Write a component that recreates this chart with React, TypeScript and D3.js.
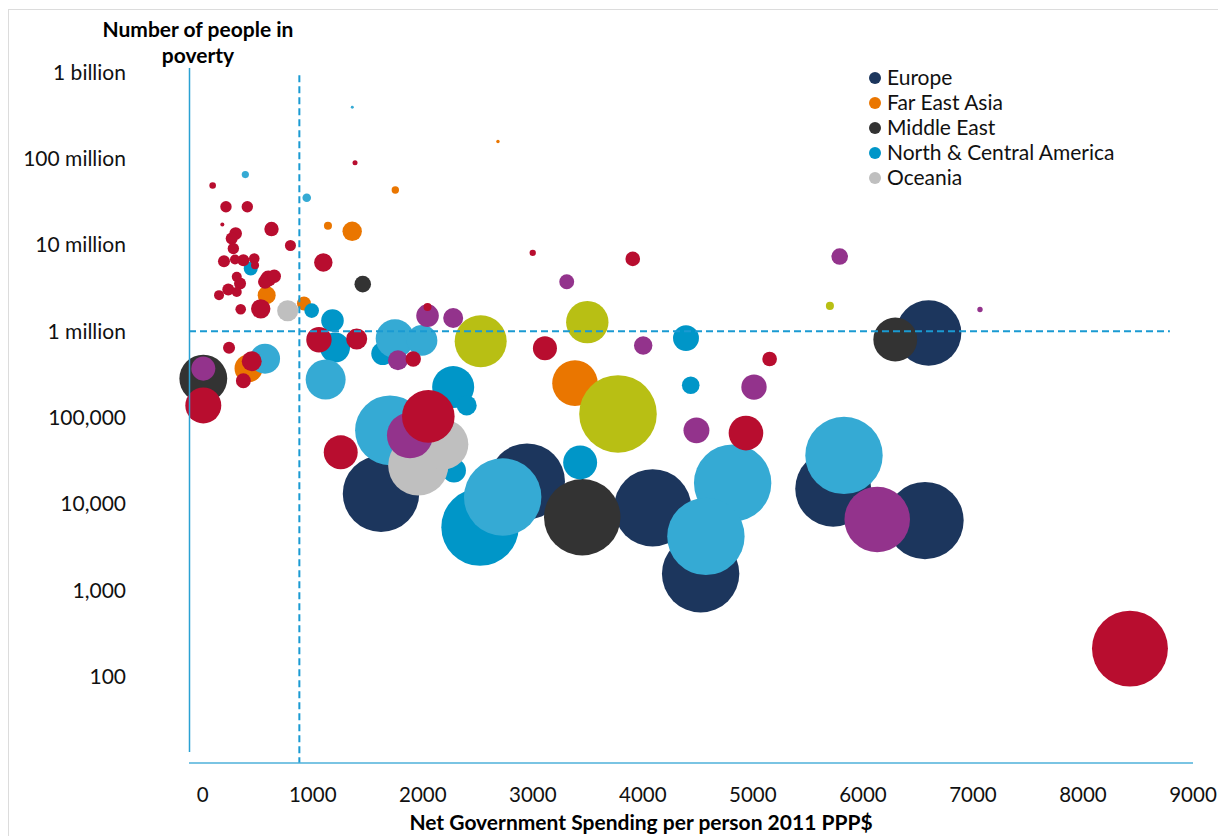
import React from "react";
import * as d3 from "d3";

// Each point: x = net government spending per person (2011 PPP$),
// y = number of people in poverty, s = bubble size (population, millions)
type Pt = { x: number; y: number; s: number };

const europe: Pt[] = [
  { x: 1620, y: 13100, s: 79 },
  { x: 2947, y: 18200, s: 78 },
  { x: 4089, y: 9000, s: 81 },
  { x: 4525, y: 1550, s: 81 },
  { x: 5730, y: 15000, s: 78 },
  { x: 6564, y: 6400, s: 81 },
  { x: 6597, y: 950000, s: 58 },
];

const farEastAsia: Pt[] = [
  { x: 581, y: 2610000, s: 4.4 },
  { x: 920, y: 2090000, s: 2.65 },
  { x: 1138, y: 16600000, s: 0.87 },
  { x: 1358, y: 14300000, s: 5.1 },
  { x: 1750, y: 43000000, s: 0.74 },
  { x: 2683, y: 157000000, s: 0.16 },
  { x: 416, y: 370000, s: 10.6 },
  { x: 3383, y: 250000, s: 28 },
];

const middleEast: Pt[] = [
  { x: 5, y: 282000, s: 31 },
  { x: 1454, y: 3500000, s: 3.7 },
  { x: 3449, y: 7000, s: 79 },
  { x: 6294, y: 800000, s: 26 },
];

const northCentralAmerica: Pt[] = [
  { x: 436, y: 5300000, s: 2.65 },
  { x: 990, y: 1730000, s: 2.9 },
  { x: 1179, y: 1330000, s: 6.9 },
  { x: 1202, y: 645000, s: 12.2 },
  { x: 1636, y: 550000, s: 7.15 },
  { x: 2276, y: 225000, s: 23.9 },
  { x: 2399, y: 138000, s: 5.4 },
  { x: 2283, y: 24400, s: 7.8 },
  { x: 2520, y: 5380, s: 81 },
  { x: 3430, y: 30200, s: 15.6 },
  { x: 4392, y: 830000, s: 9.1 },
  { x: 4435, y: 236000, s: 4.2 },
];

const southAmerica: Pt[] = [
  { x: 387, y: 65000000, s: 0.7 },
  { x: 945, y: 35000000, s: 1.0 },
  { x: 1359, y: 390000000, s: 0.12 },
  { x: 566, y: 480000, s: 12.2 },
  { x: 1117, y: 275000, s: 21.6 },
  { x: 1747, y: 820000, s: 20.1 },
  { x: 1993, y: 780000, s: 12.7 },
  { x: 1702, y: 71000, s: 66 },
  { x: 2726, y: 12000, s: 81 },
  { x: 4816, y: 17400, s: 81 },
  { x: 4573, y: 4200, s: 81 },
  { x: 5828, y: 36400, s: 81 },
];

const oceania: Pt[] = [
  { x: 772, y: 1720000, s: 6 },
  { x: 2186, y: 48900, s: 34 },
  { x: 1959, y: 27900, s: 49 },
];

const centralAsia: Pt[] = [
  { x: 5, y: 368000, s: 7.8 },
  { x: 2043, y: 1510000, s: 6.9 },
  { x: 2276, y: 1420000, s: 5.4 },
  { x: 1774, y: 460000, s: 5.4 },
  { x: 1883, y: 62100, s: 28.6 },
  { x: 3308, y: 3730000, s: 3.0 },
  { x: 4003, y: 680000, s: 4.6 },
  { x: 4487, y: 71000, s: 9.1 },
  { x: 5010, y: 225000, s: 8.7 },
  { x: 5789, y: 7300000, s: 3.7 },
  { x: 7064, y: 1780000, s: 0.39 },
  { x: 6130, y: 6600, s: 58 },
];

const africa: Pt[] = [
  { x: 90, y: 48600000, s: 0.59 },
  { x: 211, y: 27500000, s: 1.76 },
  { x: 405, y: 27500000, s: 1.76 },
  { x: 178, y: 17200000, s: 0.22 },
  { x: 625, y: 15200000, s: 2.8 },
  { x: 797, y: 9800000, s: 1.64 },
  { x: 299, y: 13500000, s: 2.15 },
  { x: 263, y: 11800000, s: 1.95 },
  { x: 278, y: 9060000, s: 1.76 },
  { x: 193, y: 6450000, s: 1.95 },
  { x: 293, y: 6750000, s: 1.35 },
  { x: 369, y: 6630000, s: 1.95 },
  { x: 468, y: 6940000, s: 1.52 },
  { x: 475, y: 5800000, s: 0.87 },
  { x: 596, y: 4060000, s: 3.46 },
  { x: 650, y: 4320000, s: 2.43 },
  { x: 566, y: 3720000, s: 2.65 },
  { x: 309, y: 4250000, s: 1.35 },
  { x: 339, y: 3560000, s: 1.95 },
  { x: 232, y: 3030000, s: 1.95 },
  { x: 148, y: 2610000, s: 1.35 },
  { x: 309, y: 2840000, s: 1.35 },
  { x: 345, y: 1790000, s: 1.52 },
  { x: 527, y: 1810000, s: 5.1 },
  { x: 1096, y: 6230000, s: 4.6 },
  { x: 1384, y: 89000000, s: 0.34 },
  { x: 2043, y: 1900000, s: 0.87 },
  { x: 1056, y: 794000, s: 8.7 },
  { x: 1399, y: 810000, s: 6.0 },
  { x: 1913, y: 476000, s: 3.2 },
  { x: 2050, y: 103000, s: 37.4 },
  { x: 1254, y: 39500, s: 15.6 },
  { x: 2999, y: 8050000, s: 0.55 },
  { x: 3908, y: 6860000, s: 2.9 },
  { x: 3110, y: 633000, s: 7.8 },
  { x: 4937, y: 66000, s: 16.2 },
  { x: 5152, y: 476000, s: 2.9 },
  { x: 8427, y: 211, s: 78 },
  { x: 5, y: 138000, s: 17.5 },
  { x: 239, y: 642000, s: 1.95 },
  { x: 445, y: 448000, s: 5.4 },
  { x: 369, y: 266000, s: 3.0 },
];

const southAsia: Pt[] = [
  { x: 2526, y: 763000, s: 36.6 },
  { x: 3495, y: 1270000, s: 24.3 },
  { x: 3774, y: 110000, s: 81.4 },
  { x: 5700, y: 1960000, s: 0.87 },
];

// Drawing order, back to front
const series = [
  { name: "Europe", color: "#1c365d", data: europe },
  { name: "Far East Asia", color: "#ea7600", data: farEastAsia },
  { name: "Middle East", color: "#333333", data: middleEast },
  { name: "North & Central America", color: "#0096c8", data: northCentralAmerica },
  { name: "South America", color: "#35aad4", data: southAmerica },
  { name: "Oceania", color: "#bfbfbf", data: oceania },
  { name: "Eastern Europe & Central Asia", color: "#93338c", data: centralAsia },
  { name: "Sub-Saharan Africa", color: "#b80d2f", data: africa },
  { name: "South Asia", color: "#b8bf14", data: southAsia },
];

const legendOrder = ["Europe", "Far East Asia", "Middle East", "North & Central America", "Oceania"];

const xTicks = [0, 1000, 2000, 3000, 4000, 5000, 6000, 7000, 8000, 9000];
const yTicks = [100, 1000, 10000, 100000, 1e6, 1e7, 1e8, 1e9];
const yTickLabels = ["100", "1,000", "10,000", "100,000", "1 million", "10 million", "100 million", "1 billion"];

// Reference lines: spending threshold and one million people
const spendingThreshold = 878;
const povertyThreshold = 1e6;
const povertyLineEnd = 8790;

const FONT = "Lato, 'Open Sans', sans-serif";

export default function App() {
  const x = d3.scaleLinear().domain([-125, 9000]).range([189, 1193]);
  const y = d3.scaleLog().domain([10, 1e9]).range([763, 72]);
  const r = d3.scaleSqrt().domain([0, 81]).range([0, 38.7]);

  return (
    <svg
      width={1218}
      height={836}
      style={{ position: "absolute", left: 0, top: 0, background: "#fff" }}
      fontFamily={FONT}
    >
      <rect x={8.5} y={9.5} width={1230} height={850} fill="#fff" stroke="#dcdcdc" />

      {/* bubbles */}
      {series.map((sr) => (
        <g key={sr.name} fill={sr.color}>
          {[...sr.data]
            .sort((a, b) => b.s - a.s)
            .map((d, i) => (
              <circle key={i} cx={x(d.x)} cy={y(d.y)} r={r(d.s)} />
            ))}
        </g>
      ))}

      {/* reference lines */}
      <line
        x1={x(spendingThreshold)}
        x2={x(spendingThreshold)}
        y1={y(9.2e8)}
        y2={y(10)}
        stroke="#1a9ad2"
        strokeWidth={2}
        strokeDasharray="7 4"
      />
      <line
        x1={x(-125)}
        x2={x(povertyLineEnd)}
        y1={y(povertyThreshold)}
        y2={y(povertyThreshold)}
        stroke="#1a9ad2"
        strokeWidth={2}
        strokeDasharray="7 4"
      />

      {/* axes */}
      <line x1={189.5} x2={189.5} y1={68} y2={752} stroke="#2aa1d3" strokeWidth={1.5} />
      <line x1={189} x2={1193} y1={763} y2={763} stroke="#4eb0da" strokeWidth={1.5} />

      {yTicks.map((t, i) => (
        <text key={t} x={126} y={y(t) + 7.5} textAnchor="end" fontSize={21} fill="#111">
          {yTickLabels[i]}
        </text>
      ))}
      {xTicks.map((t) => (
        <text key={t} x={x(t)} y={802} textAnchor="middle" fontSize={20.5} fill="#111">
          {t}
        </text>
      ))}

      <text x={198} y={37} textAnchor="middle" fontSize={21} fontWeight="bold" fill="#000">
        Number of people in
      </text>
      <text x={198} y={63} textAnchor="middle" fontSize={21} fontWeight="bold" fill="#000">
        poverty
      </text>
      <text x={641} y={830} textAnchor="middle" fontSize={21} fontWeight="bold" fill="#000">
        Net Government Spending per person 2011 PPP$
      </text>

      {/* legend */}
      {legendOrder.map((name, i) => {
        const sr = series.find((s) => s.name === name)!;
        const ly = 78 + i * 25;
        return (
          <g key={name}>
            <circle cx={875} cy={ly} r={6} fill={sr.color} />
            <text x={887} y={ly + 7} fontSize={21} fill="#111">
              {name}
            </text>
          </g>
        );
      })}
    </svg>
  );
}
